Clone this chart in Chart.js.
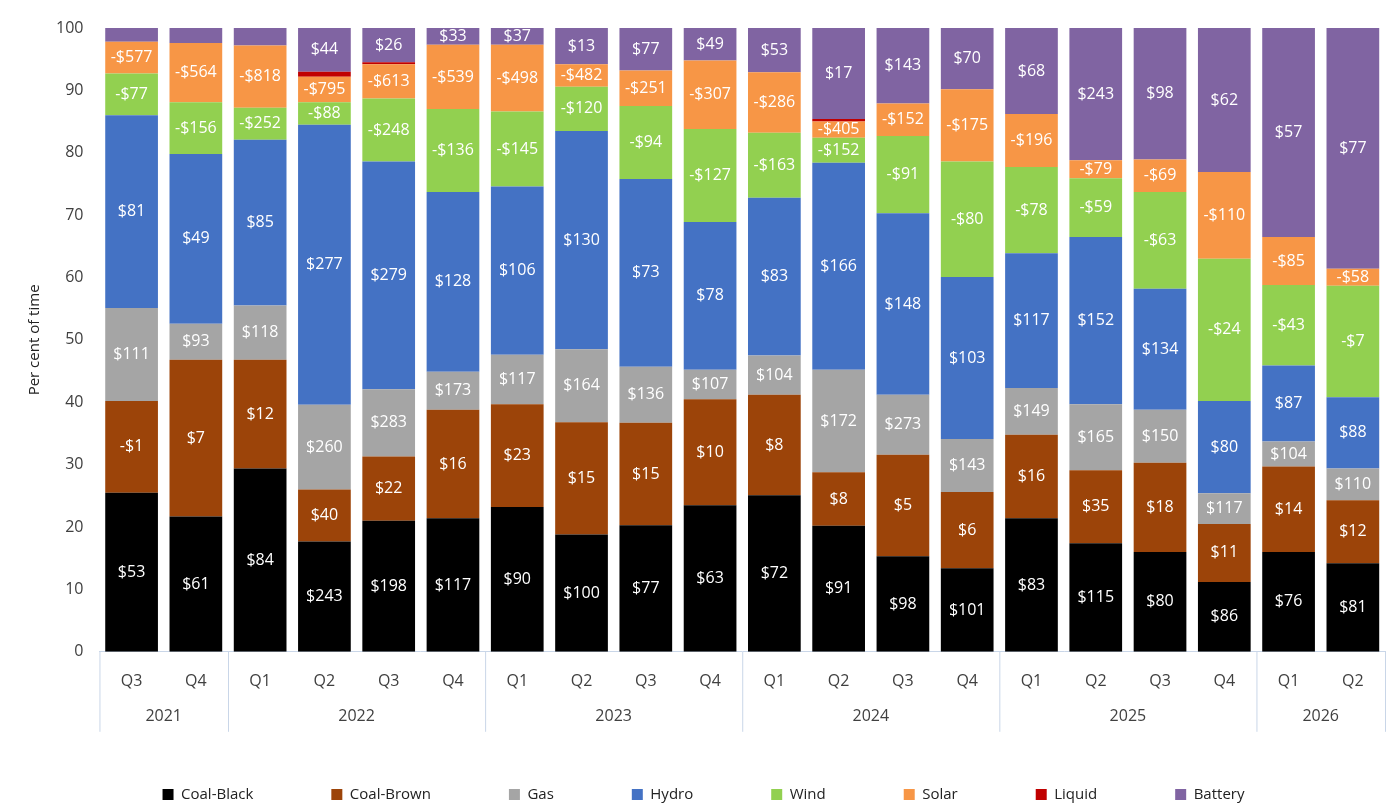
<!DOCTYPE html>
<html><head><meta charset="utf-8">
<script src="https://cdn.jsdelivr.net/npm/chart.js@4"></script>
<style>html,body{margin:0;background:#fff}#w{width:1399px;height:812px}</style>
</head><body><div id="w"><canvas id="c"></canvas></div>
<script>
const quarters=["Q3","Q4","Q1","Q2","Q3","Q4","Q1","Q2","Q3","Q4","Q1","Q2","Q3","Q4","Q1","Q2","Q3","Q4","Q1","Q2"];
const years=[["2021",2],["2022",4],["2023",4],["2024",4],["2025",4],["2026",2]];
const yTicks=[0,10,20,30,40,50,60,70,80,90,100];
const coalBlack=[25.5,21.7,29.4,17.7,21,21.4,23.2,18.8,20.3,23.5,25.1,20.2,15.3,13.4,21.4,17.4,16,11.2,16,14.2];
const coalBrown=[14.7,25.1,17.4,8.3,10.3,17.4,16.5,18,16.4,17,16.1,8.6,16.3,12.2,13.4,11.7,14.3,9.3,13.7,10.1];
const gas=[14.9,5.8,8.7,13.6,10.8,6.1,7.9,11.7,9,4.7,6.3,16.4,9.6,8.5,7.5,10.6,8.5,4.9,4,5.1];
const hydro=[30.9,27.2,26.6,44.9,36.5,28.8,27,35,30.1,23.7,25.3,33.2,29.1,26,21.6,26.8,19.4,14.8,12.2,11.4];
const wind=[6.7,8.3,5.1,3.6,10.1,13.3,12,7.1,11.7,14.9,10.4,4,12.4,18.5,13.8,9.4,15.5,22.8,12.9,17.9];
const solar=[5.1,9.5,10,4.1,5.5,10.3,10.7,3.6,5.7,11,9.7,2.6,5.2,11.6,8.5,2.9,5.2,13.9,7.7,2.7];
const liquid=[0,0,0,0.8,0.3,0,0,0,0,0,0,0.4,0,0,0,0,0,0,0,0];
const battery=[2.2,2.4,2.8,7,5.5,2.7,2.7,5.8,6.8,5.2,7.1,14.6,12.1,9.8,13.8,21.2,21.1,23.1,33.5,38.6];
const pBlack=[53,61,84,243,198,117,90,100,77,63,72,91,98,101,83,115,80,86,76,81];
const pBrown=[-1,7,12,40,22,16,23,15,15,10,8,8,5,6,16,35,18,11,14,12];
const pGas=[111,93,118,260,283,173,117,164,136,107,104,172,273,143,149,165,150,117,104,110];
const pHydro=[81,49,85,277,279,128,106,130,73,78,83,166,148,103,117,152,134,80,87,88];
const pWind=[-77,-156,-252,-88,-248,-136,-145,-120,-94,-127,-163,-152,-91,-80,-78,-59,-63,-24,-43,-7];
const pSolar=[-577,-564,-818,-795,-613,-539,-498,-482,-251,-307,-286,-405,-152,-175,-196,-79,-69,-110,-85,-58];
const pLiquid=quarters.map(()=>null);
const pBattery=[null,null,null,44,26,33,37,13,77,49,53,17,143,70,68,243,98,62,57,77];
const F="'Open Sans', sans-serif";
const mk=(label,data,color,prices)=>({label,data,backgroundColor:color,prices,barPercentage:0.82,categoryPercentage:1});
const ds=[mk("Coal-Black",coalBlack,"#000000",pBlack),mk("Coal-Brown",coalBrown,"#9C4409",pBrown),mk("Gas",gas,"#A5A5A5",pGas),
mk("Hydro",hydro,"#4472C4",pHydro),mk("Wind",wind,"#92D050",pWind),mk("Solar",solar,"#F79646",pSolar),
mk("Liquid",liquid,"#C00000",pLiquid),mk("Battery",battery,"#8064A2",pBattery)];
const fmt=v=>v<0?"-$"+Math.abs(v):"$"+v;
const plug={id:"p",afterDatasetsDraw(ch){const c=ch.ctx;c.save();c.fillStyle="#fff";c.font="16px "+F;c.textAlign="center";c.textBaseline="middle";
ch.data.datasets.forEach((d,i)=>{const m=ch.getDatasetMeta(i);m.data.forEach((el,j)=>{const v=d.prices[j];if(v==null)return;c.fillText(fmt(v),el.x,(el.y+el.base)/2);});});
const x=ch.scales.x,top=x.top,bot=top+80;c.strokeStyle="#C9D6E8";c.lineWidth=1;c.fillStyle="#404040";
const step=(x.right-x.left)/quarters.length;let k=0;
const ln=px=>{c.beginPath();c.moveTo(px+0.5,top);c.lineTo(px+0.5,bot);c.stroke();};
ln(x.left);years.forEach(([y,n])=>{const a=x.left+k*step;k+=n;const b=x.left+k*step;ln(b);c.fillText(y,(a+b)/2,top+65);});
c.restore();}};
new Chart(document.getElementById("c"),{type:"bar",data:{labels:quarters,datasets:ds},plugins:[plug],
options:{responsive:true,maintainAspectRatio:false,animation:false,layout:{padding:{top:28,right:14,left:22}},
plugins:{tooltip:{enabled:false},legend:{position:"bottom",labels:{boxWidth:11,boxHeight:11,padding:78,color:"#222",font:{family:F,size:15}}}},
scales:{x:{stacked:true,grid:{display:false},border:{color:"#C9D6E8"},ticks:{color:"#404040",font:{family:F,size:16},padding:12},afterFit(s){s.height+=6;}},
y:{stacked:true,min:0,max:100,afterBuildTicks(s){s.ticks=yTicks.map(v=>({value:v}));},grid:{display:false},border:{display:false},ticks:{color:"#404040",font:{family:F,size:16},padding:8},
title:{display:true,text:"Per cent of time",color:"#222",font:{family:F,size:15}}}}}});
</script></body></html>
